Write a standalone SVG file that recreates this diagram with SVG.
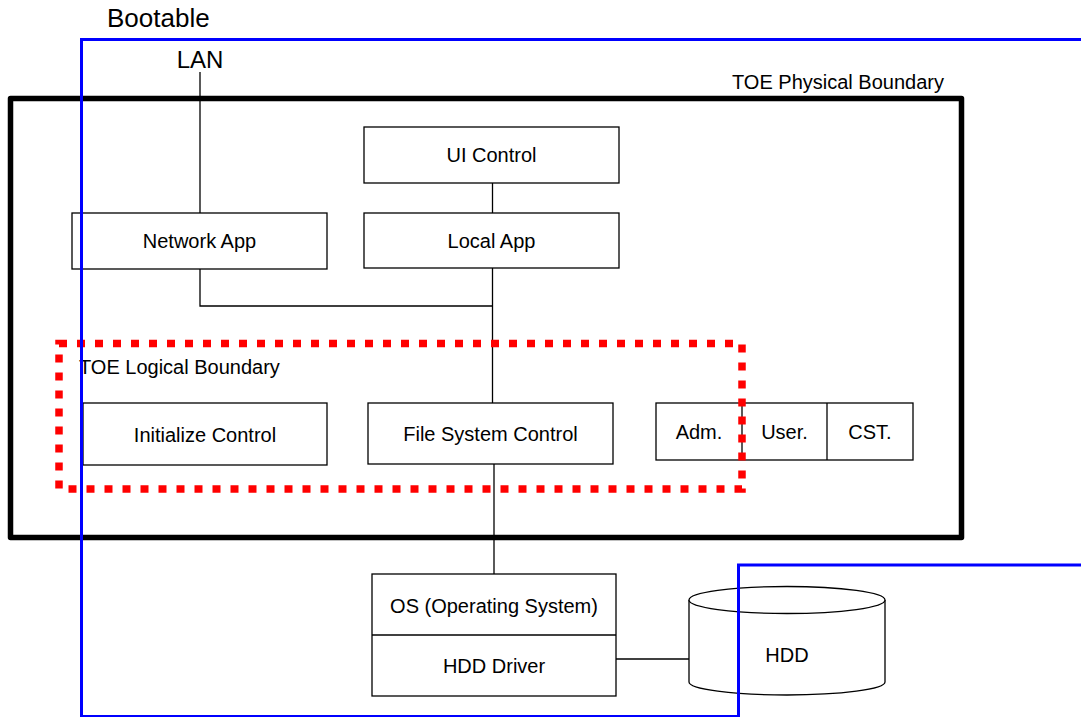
<svg xmlns="http://www.w3.org/2000/svg" width="1081" height="717" viewBox="0 0 1081 717">
<style>
text{font-family:"Liberation Sans",Arial,sans-serif;fill:#000;}
.t{font-size:20px;text-anchor:middle;}
.big{font-size:24px;}
.box{fill:#fff;stroke:#000;stroke-width:1.3;}
.ln{fill:none;stroke:#000;stroke-width:1.3;}
</style>
<rect width="1081" height="717" fill="#fff"/>
<g id="connectors">
<line class="ln" x1="200" y1="72" x2="200" y2="213"/>
<line class="ln" x1="492.5" y1="183" x2="492.5" y2="213"/>
<polyline class="ln" points="200,269 200,306 492.5,306"/>
<line class="ln" x1="492.5" y1="268" x2="492.5" y2="403"/>
<line class="ln" x1="494" y1="464" x2="494" y2="574"/>
<line class="ln" x1="616" y1="659" x2="689" y2="659"/>
</g>
<g id="physical-boundary">
<rect x="10.5" y="98.5" width="951" height="439" fill="none" stroke="#000" stroke-width="5.5" stroke-linejoin="round"/>
<text x="732" y="89" style="font-size:20px">TOE Physical Boundary</text>
</g>
<g id="ui-control"><rect class="box" x="364" y="127" width="255" height="56"/><text class="t" x="491.5" y="162">UI Control</text></g>
<g id="local-app"><rect class="box" x="364" y="213" width="255" height="55"/><text class="t" x="491.5" y="248">Local App</text></g>
<g id="network-app"><rect class="box" x="72" y="213" width="255" height="56"/><text class="t" x="199.5" y="248">Network App</text></g>
<g id="initialize-control"><rect class="box" x="83" y="403" width="244" height="62"/><text class="t" x="205" y="442">Initialize Control</text></g>
<g id="file-system-control"><rect class="box" x="368" y="403" width="245" height="61"/><text class="t" x="490.5" y="441">File System Control</text></g>
<g id="roles">
<rect class="box" x="656" y="403" width="257" height="57"/>
<line class="ln" x1="742" y1="403" x2="742" y2="460"/>
<line class="ln" x1="827" y1="403" x2="827" y2="460"/>
<text class="t" x="699" y="439">Adm.</text>
<text class="t" x="784.5" y="439">User.</text>
<text class="t" x="870" y="439">CST.</text>
</g>
<g id="os">
<rect class="box" x="372" y="574" width="244" height="122"/>
<line class="ln" x1="372" y1="635" x2="616" y2="635"/>
<text class="t" x="494" y="613">OS (Operating System)</text>
<text class="t" x="494" y="673">HDD Driver</text>
</g>
<g id="hdd">
<path d="M689,600 L689,682 A98,13 0 0 0 885,682 L885,600" fill="#fff" stroke="#000" stroke-width="1.3"/>
<ellipse cx="787" cy="600" rx="98" ry="13.5" fill="#fff" stroke="#000" stroke-width="1.3"/>
<text class="t" x="787" y="662">HDD</text>
</g>
<g id="logical-boundary">
<rect x="59" y="343.5" width="683" height="145.5" fill="none" stroke="#f00" stroke-width="7.5" stroke-dasharray="8 10"/>
<text x="79" y="374" style="font-size:20px">TOE Logical Boundary</text>
</g>
<g id="bootable">
<path d="M1081,39.5 L81.5,39.5 L81.5,716.5 L738.5,716.5 L738.5,565 L1081,565" fill="none" stroke="#00f" stroke-width="3"/>
<text x="107" y="27" style="font-size:26px">Bootable</text>
</g>
<text class="big" x="200" y="68" text-anchor="middle">LAN</text>
</svg>
